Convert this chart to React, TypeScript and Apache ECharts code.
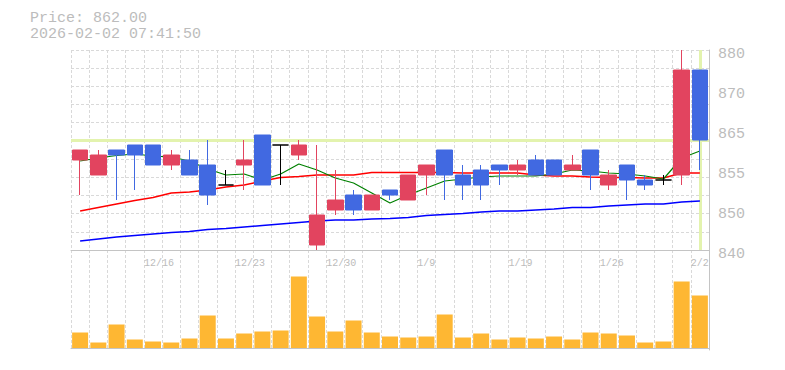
import React, { useEffect, useRef } from 'react';
import * as echarts from 'echarts';

const dates = ['12/10','12/11','12/12','12/15','12/16','12/17','12/18','12/19','12/22','12/23','12/24','12/25','12/26','12/29','12/30','1/5','1/6','1/7','1/8','1/9','1/13','1/14','1/15','1/16','1/19','1/20','1/21','1/22','1/23','1/26','1/27','1/28','1/29','1/30','2/2'];
const tickLabels = ['12/16','12/23','12/30','1/9','1/19','1/26','2/2'];

const opens  = [858,855,860,861,861,857,858,857,853,857,863,861,859,841,848,851,848,852,850,855,860,855,856,857,856,858,858,856,860,853,857,854,854,855,876];
const closes = [860,859,859,859,857,859,855,851,853,858,853,861,861,847,850,848,851,851,855,857,855,853,853,856,857,855,855,857,855,855,854,853,854,876,862];
const lows   = [851,855,850,852,857,856,855,849,853,852,853,853,858,840,847,847,848,850,850,851,850,850,850,853,855,855,855,856,852,852,850,852,853,853,856];
const highs  = [860,860,860,861,861,860,860,862,856,862,863,861,862,861,856,852,851,852,855,857,860,857,857,857,858,859,858,859,860,856,857,855,855,880,876];

const ma5  = [857.8,858.4,858.9,859.2,858.8,858.6,857.8,856.2,855.0,855.2,854.0,855.2,857.2,856.0,854.4,853.4,851.4,849.4,851.0,852.4,853.8,854.2,854.6,854.8,854.8,854.8,855.2,856.0,855.8,855.4,855.2,854.8,854.2,858.4,859.8];
const ma25 = [847.8,848.5,849.2,849.9,850.5,851.4,851.6,852.0,852.6,853.0,853.8,854.5,854.7,855.0,855.0,855.0,855.5,855.5,855.5,855.5,855.5,855.4,855.4,855.4,855.4,855.0,854.8,854.8,854.6,854.5,854.5,854.4,854.4,855.4,855.4];
const ma75 = [841.8,842.2,842.6,842.9,843.2,843.5,843.7,844.1,844.3,844.6,844.9,845.2,845.5,845.8,846.0,846.0,846.2,846.3,846.5,846.9,847.1,847.3,847.6,847.8,847.8,848.0,848.2,848.5,848.5,848.8,849.0,849.2,849.2,849.6,849.8];

const volumes = [31,11,47,17,13,11,19,65,19,29,33,35,143,63,33,55,31,23,21,23,67,21,29,17,21,19,23,17,31,29,25,11,13,133,105];

const yTicks = [840, 880, 8];
const lastPrice = 862;
const lastDate = '2/2';
const priceText = 'Price: 862.00';
const timeText = '2026-02-02 07:41:50';

const RED = '#e2445f';
const BLUE = '#4169e1';
const GRID = '#d9d9d9';
const AXIS = '#c4c4c4';
const TEXT = '#bcbcbc';
const FONT = 'Liberation Mono';

export default function App() {
  const ref = useRef<HTMLDivElement>(null);
  useEffect(() => {
    if (!ref.current) return;
    const chart = echarts.init(ref.current, undefined, { renderer: 'svg' });
    const candles = dates.map((_, i) => [opens[i], closes[i], lows[i], highs[i]]);
    const split = { show: true, interval: 0, showMaxLine: false, lineStyle: { color: GRID, type: [3, 2], width: 1 } };
    chart.setOption({
      animation: false,
      backgroundColor: '#ffffff',
      textStyle: { fontFamily: FONT },
      graphic: [
        { type: 'text', x: 30, y: 18.5, style: { text: priceText, fill: TEXT, font: `15px "${FONT}"`, verticalAlign: 'middle' } },
        { type: 'text', x: 30, y: 34, style: { text: timeText, fill: TEXT, font: `15px "${FONT}"`, verticalAlign: 'middle' } },
      ],
      grid: [
        { left: 71, right: 76, top: 50, height: 200 },
        { left: 71, right: 76, top: 250, height: 100 },
      ],
      xAxis: [
        { type: 'category', gridIndex: 0, data: dates, boundaryGap: true,
          axisLine: { show: true, lineStyle: { color: AXIS } }, axisTick: { show: false }, axisLabel: { show: false }, splitLine: split },
        { type: 'category', gridIndex: 1, data: dates, boundaryGap: true,
          axisLine: { show: true, lineStyle: { color: AXIS } }, axisTick: { show: false }, axisLabel: { show: false }, splitLine: split },
        { type: 'category', gridIndex: 0, data: [...dates, ''], boundaryGap: false, position: 'bottom',
          axisLine: { show: false }, axisTick: { show: false }, splitLine: { show: false },
          axisLabel: { show: true, interval: 0, align: 'left', margin: 8, color: TEXT, fontSize: 10, fontFamily: FONT,
            formatter: (v: string) => (tickLabels.includes(v) ? v : '') } },
      ],
      yAxis: [
        { type: 'value', gridIndex: 0, position: 'right', min: yTicks[0], max: yTicks[1], interval: yTicks[2],
          axisLine: { show: true, lineStyle: { color: AXIS } }, axisTick: { show: false }, splitLine: { show: false },
          axisLabel: { color: TEXT, fontSize: 15, fontFamily: FONT, margin: 9, verticalAlign: 'top', padding: [-3, 0, 0, 0],
            formatter: (v: number) => String(Math.round(v / 5) * 5) } },
        { type: 'value', gridIndex: 0, position: 'left', min: 0, max: 11, interval: 1,
          axisLine: { show: false }, axisTick: { show: false }, axisLabel: { show: false },
          splitLine: { show: true, showMinLine: false, lineStyle: { color: GRID, type: [3, 2], width: 1 } } },
        { type: 'value', gridIndex: 1, position: 'right', min: -4, max: 196,
          axisLine: { show: true, lineStyle: { color: AXIS } }, axisTick: { show: false }, axisLabel: { show: false }, splitLine: { show: false } },
      ],
      series: [
        { type: 'line', name: 'MA75', xAxisIndex: 0, yAxisIndex: 0, data: ma75, symbol: 'none', z: 2,
          lineStyle: { color: '#0000ff', width: 1.5 },
          markLine: { z: 1, silent: true, symbol: ['none', 'none'], label: { show: false },
            lineStyle: { color: '#e3f3ae', width: 3, type: 'solid' },
            data: [{ yAxis: lastPrice }, { xAxis: lastDate }] } },
        { type: 'line', name: 'MA25', xAxisIndex: 0, yAxisIndex: 0, data: ma25, symbol: 'none', z: 2,
          lineStyle: { color: '#ff0000', width: 1.5 } },
        { type: 'line', name: 'MA5', xAxisIndex: 0, yAxisIndex: 0, data: ma5, symbol: 'none', z: 2,
          lineStyle: { color: '#008000', width: 1.2 } },
        { type: 'candlestick', xAxisIndex: 0, yAxisIndex: 0, data: candles, barWidth: 16, z: 3,
          itemStyle: { color: RED, color0: BLUE, borderColor: RED, borderColor0: BLUE, borderColorDoji: '#000000', borderWidth: 1 } },
        { type: 'bar', xAxisIndex: 1, yAxisIndex: 2, data: volumes, barWidth: 16,
          itemStyle: { color: '#feb733' } },
      ],
    });
    return () => chart.dispose();
  }, []);
  return <div ref={ref} style={{ position: 'fixed', left: 0, top: 0, width: 785, height: 370, background: '#fff' }} />;
}
